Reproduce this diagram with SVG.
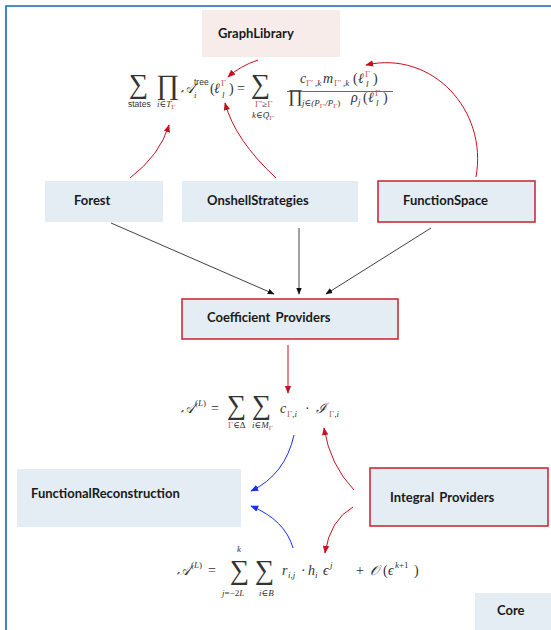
<svg xmlns="http://www.w3.org/2000/svg" width="551" height="630" viewBox="0 0 551 630">
<defs>
<style>
.box{fill:#e4ecf4;stroke:none}
.boxr{fill:#e4ecf4;stroke:#c8202e;stroke-width:1.5}
.lbl{font-family:Lato,"Liberation Sans",sans-serif;font-weight:bold;font-size:13px;fill:#1a1a1a}
.m{font-family:"Liberation Serif","DejaVu Serif",serif;font-size:14px;fill:#333;font-style:italic}
.n{font-style:normal}
.s{font-size:9px}
.ss{font-size:7px}
.r{fill:#c9534f}
.sf{font-family:"Liberation Sans",sans-serif;font-style:normal;font-size:8.5px}
.big{font-family:"Liberation Serif","DejaVu Serif",serif;font-style:normal;fill:#333}
.ck{fill:none;stroke:#111;stroke-width:0.8}
.cr{fill:none;stroke:#c8101e;stroke-width:1}
.cb{fill:none;stroke:#1a2ef0;stroke-width:1}
</style>
<marker id="ak" viewBox="0 0 10 10" refX="9" refY="5" markerWidth="7" markerHeight="7" markerUnits="userSpaceOnUse" orient="auto"><path d="M0,1 L10,5 L0,9 Z" fill="#111"/></marker>
<marker id="ar" viewBox="0 0 10 10" refX="9" refY="5" markerWidth="8" markerHeight="8" markerUnits="userSpaceOnUse" orient="auto"><path d="M0,1 L10,5 L0,9 Z" fill="#c8101e"/></marker>
<marker id="ab" viewBox="0 0 10 10" refX="9" refY="5" markerWidth="8" markerHeight="8" markerUnits="userSpaceOnUse" orient="auto"><path d="M0,1 L10,5 L0,9 Z" fill="#1a2ef0"/></marker>
</defs>
<rect width="551" height="630" fill="#fff"/>
<g id="frame"><path d="M6,630 L6,6 L551,6" fill="none" stroke="#1565c0" stroke-width="1.6"/></g>

<g id="GraphLibrary"><rect x="202" y="10" width="138" height="47" fill="#f7ecea"/><text class="lbl" x="218" y="38">GraphLibrary</text></g>
<g id="Forest"><rect class="box" x="45" y="181" width="118" height="41"/><text class="lbl" x="74" y="205">Forest</text></g>
<g id="OnshellStrategies"><rect class="box" x="182" y="181" width="176" height="41"/><text class="lbl" x="207" y="205">OnshellStrategies</text></g>
<g id="FunctionSpace"><rect class="boxr" x="378" y="181" width="157" height="41"/><text class="lbl" x="403" y="205">FunctionSpace</text></g>
<g id="CoefficientProviders"><rect class="boxr" x="182" y="299" width="216" height="40"/><text class="lbl" x="207" y="322" word-spacing="2">Coefficient Providers</text></g>
<g id="FunctionalReconstruction"><rect class="box" x="17" y="469" width="224" height="58"/><text class="lbl" x="31" y="498">FunctionalReconstruction</text></g>
<g id="IntegralProviders"><rect class="boxr" x="370" y="468" width="178" height="58"/><text class="lbl" x="390" y="502" word-spacing="2">Integral Providers</text></g>
<g id="Core"><rect class="box" x="475" y="593" width="76" height="37"/><text class="lbl" x="497" y="615">Core</text></g>

<g id="formula-tree">
<text class="big" x="129" y="93" font-size="27">∑</text>
<text class="m sf" x="128" y="107">states</text>
<text class="big" x="156" y="94" font-size="28">∏</text>
<text class="m s" x="157" y="107">i∈T<tspan class="r n ss" dy="1.5">Γ</tspan></text>
<text class="m" x="181" y="93">𝒜</text>
<text class="m sf" x="194" y="85">tree</text>
<text class="m s" x="194" y="98">i</text>
<text class="m n" x="210" y="93">(</text>
<text class="m" x="214" y="93">ℓ</text>
<text class="m s r n" x="221" y="86">Γ</text>
<text class="m s" x="222" y="98">l</text>
<text class="m n" x="229" y="93">)</text>
<text class="m n" x="237" y="93">=</text>
<text class="big" x="251" y="93" font-size="27">∑</text>
<text class="m s n" x="255" y="107"><tspan class="r">Γ′</tspan>≥<tspan class="r">Γ</tspan></text>
<text class="m s" x="252" y="118">k∈Q̄<tspan class="r n ss" dy="1.5">Γ′</tspan></text>
<text class="m" x="300" y="83">c</text>
<text class="m s r n" x="306" y="86">Γ′</text>
<text class="m s" x="315" y="86">,k</text>
<text class="m" x="323" y="83">m</text>
<text class="m s r n" x="334" y="86">Γ′</text>
<text class="m s" x="343" y="86">,k</text>
<text class="m n" x="353" y="83">(</text>
<text class="m" x="358" y="83">ℓ</text>
<text class="m s r n" x="365" y="77">Γ</text>
<text class="m s" x="366" y="87">l</text>
<text class="m n" x="373" y="83">)</text>
<line x1="287" y1="91.5" x2="393" y2="91.5" stroke="#444" stroke-width="0.8"/>
<text class="big" x="288" y="102" font-size="18">∏</text>
<text class="m s" x="302" y="106">j∈(P<tspan class="r n ss" dy="1.5">Γ′</tspan><tspan dy="-1.5">/P</tspan><tspan class="r n ss" dy="1.5">Γ</tspan><tspan class="n" dy="-1.5">)</tspan></text>
<text class="m" x="351" y="102">ρ</text>
<text class="m s" x="358" y="105">j</text>
<text class="m n" x="363" y="102">(</text>
<text class="m" x="368" y="102">ℓ</text>
<text class="m s r n" x="375" y="96">Γ</text>
<text class="m s" x="376" y="106">l</text>
<text class="m n" x="383" y="102">)</text>
</g>

<g id="formula-amplitude">
<text class="m" x="181" y="413">𝒜</text>
<text class="m s" x="195" y="406"><tspan class="n">(</tspan>L<tspan class="n">)</tspan></text>
<text class="m n" x="211" y="413">=</text>
<text class="big" x="227" y="414" font-size="27">∑</text>
<text class="big" x="252" y="414" font-size="27">∑</text>
<text class="m s n" x="228" y="428"><tspan class="r">Γ</tspan>∈Δ</text>
<text class="m s" x="252" y="428">i∈M<tspan class="r n ss" dy="1.5">Γ</tspan></text>
<text class="m" x="280" y="413">c</text>
<text class="m s" x="287" y="417"><tspan class="r n">Γ</tspan>,i</text>
<text class="m n" x="305" y="413">·</text>
<text class="m" x="316" y="413">ℐ</text>
<text class="m s" x="329" y="417"><tspan class="r n">Γ</tspan>,i</text>
</g>

<g id="formula-expansion">
<text class="m" x="177" y="575">𝒜</text>
<text class="m s" x="191" y="568"><tspan class="n">(</tspan>L<tspan class="n">)</tspan></text>
<text class="m n" x="208" y="575">=</text>
<text class="big" x="230" y="579" font-size="27">∑</text>
<text class="m s" x="237" y="552">k</text>
<text class="m s" x="222" y="596">j<tspan class="n">=−2</tspan>L</text>
<text class="big" x="255" y="579" font-size="27">∑</text>
<text class="m s" x="259" y="596">i∈B</text>
<text class="m" x="282" y="575">r</text>
<text class="m s" x="288" y="578">i,j</text>
<text class="m n" x="301" y="575">·</text>
<text class="m" x="308" y="575">h</text>
<text class="m s" x="315" y="578">i</text>
<text class="m" x="323" y="575">ϵ</text>
<text class="m s" x="330" y="568">j</text>
<text class="m n" x="356" y="575">+</text>
<text class="m" x="370" y="575">𝒪</text>
<text class="m n" x="383" y="575">(</text>
<text class="m" x="388" y="575">ϵ</text>
<text class="m s" x="395" y="568">k<tspan class="n">+1</tspan></text>
<text class="m n" x="414" y="575">)</text>
</g>

<g id="connectors">
<path class="cr" d="M258,60 Q240,66 228,77" marker-end="url(#ar)"/>
<path class="cr" d="M130,178 Q160,155 169,125" marker-end="url(#ar)"/>
<path class="cr" d="M276,178 Q235,140 225,103" marker-end="url(#ar)"/>
<path class="cr" d="M476,177 C488,110 432,50 366,65" marker-end="url(#ar)"/>
<path class="ck" d="M111,223 L274,294" marker-end="url(#ak)"/>
<path class="ck" d="M299,228 L299,294" marker-end="url(#ak)"/>
<path class="ck" d="M431,228 L326,294" marker-end="url(#ak)"/>
<path class="cr" d="M288,345 L288,393" marker-end="url(#ar)"/>
<path class="cb" d="M294,435 Q285,475 251,491" marker-end="url(#ab)"/>
<path class="cr" d="M354,490 Q330,465 324,428" marker-end="url(#ar)"/>
<path class="cb" d="M293,548 Q285,520 251,506" marker-end="url(#ab)"/>
<path class="cr" d="M353,507 Q330,520 325,553" marker-end="url(#ar)"/>
</g>
</svg>
